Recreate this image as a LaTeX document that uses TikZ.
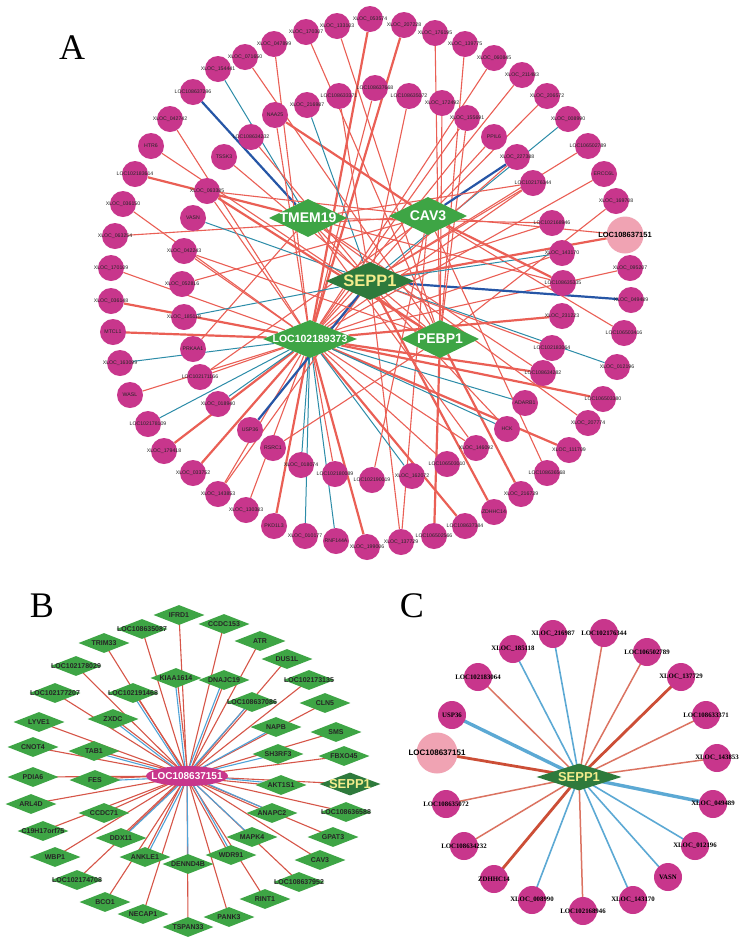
\documentclass[tikz,border=0pt]{standalone}
\usepackage{fontspec}
\setmainfont{Liberation Sans}
\newfontfamily\serifA{Liberation Serif}
\usetikzlibrary{shapes.geometric,calc}
\pgfdeclarelayer{back}
\pgfdeclarelayer{bg}
\pgfsetlayers{back,bg,main}
\definecolor{mag}{HTML}{C8368C}
\definecolor{gA}{HTML}{3EA545}
\definecolor{gD}{HTML}{2E7A3C}
\definecolor{pinkN}{HTML}{F0A3B3}
\definecolor{eR}{HTML}{EA5F55}
\definecolor{eT}{HTML}{2C8CA8}
\definecolor{eB}{HTML}{2656A6}
\definecolor{bR}{HTML}{D65548}
\definecolor{bB}{HTML}{4FA3D8}
\definecolor{cR}{HTML}{DB7361}
\definecolor{cRd}{HTML}{CC4E36}
\definecolor{cB}{HTML}{5CA9D4}
\definecolor{ylw}{HTML}{F3EC8C}
\newcommand\zb[1]{\makebox[0pt]{#1}}
\begin{document}
\begin{tikzpicture}[x=1pt,y=-1pt,
  letter/.style={font=\serifA\fontsize{36}{36}\selectfont,inner sep=0pt},
  acirc/.style={circle,fill=mag,minimum size=26pt,inner sep=0pt,text=black!85,font=\fontsize{5.2}{5.2}\selectfont},
  hub/.style={diamond,fill=gA,inner sep=0pt,minimum width=78pt,minimum height=38pt,text=white,font=\bfseries\fontsize{14}{14}\selectfont},
  er/.style={draw=eR,line width=1.1pt},
  erk/.style={draw=eR,line width=2.2pt},
  et/.style={draw=eT,line width=1pt},
  eb/.style={draw=eB,line width=2.2pt},
  bd/.style={diamond,fill=gA,inner sep=0pt,minimum width=51pt,minimum height=20pt,text=black!85,font=\bfseries\fontsize{7}{7}\selectfont},
  ber/.style={draw=bR,line width=1.1pt},
  beb/.style={draw=bB,line width=1.1pt},
  ccirc/.style={circle,fill=mag,minimum size=28pt,inner sep=0pt,text=black,font=\serifA\bfseries\fontsize{6.8}{6.8}\selectfont},
  cr/.style={draw=cR,line width=1.5pt},
  crk/.style={draw=cRd,line width=2.8pt},
  cb/.style={draw=cB,line width=1.6pt},
  cbk/.style={draw=cB,line width=3.4pt}]
\useasboundingbox (0,0) rectangle (746,946);
\begin{pgfonlayer}{back}
\fill[white] (0,0) rectangle (746,946);
\end{pgfonlayer}
% ---------------- Panel A ----------------
\node[letter] (labA) at (72,48) {A};
\foreach \n/\x/\y/\t in {
 x133103/337/26/XLOC\_133103, x053574/370/19/XLOC\_053574, x207228/404/25/XLOC\_207228,
 x176195/435/33/XLOC\_176195, x139775/465/44/XLOC\_139775, x060845/494/58/XLOC\_060845,
 x211483/522/75/XLOC\_211483, x206572/547/96/XLOC\_206572, x008990/568/119/XLOC\_008990,
 l106502789/588/146/LOC106502789, ercc6l/604/174/ERCC6L, x169708/616/201/XLOC\_169708,
 x095207/630/268/XLOC\_095207, x049489/631/300/XLOC\_049489,
 l106503416/624/333/LOC106503416, x012196/617/367/XLOC\_012196, l106503380/603/399/LOC106503380,
 x207774/588/423/XLOC\_207774, x111709/569/450/XLOC\_111709, l108636568/547/473/LOC108636568,
 x216739/521/494/XLOC\_216739, zdhhc14/494/512/ZDHHC14, l108637384/465/526/LOC108637384,
 l106502566/434/536/LOC106502566, x137729/401/542/XLOC\_137729, x199006/367/547/XLOC\_199006,
 rnf144a/336/541/RNF144A, x010177/305/536/XLOC\_010177, pkd1l3/274/526/PKD1L3,
 x130383/246/510/XLOC\_130383, x143853/218/494/XLOC\_143853, x033752/193/473/XLOC\_033752,
 x179418/164/451/XLOC\_179418, l102178109/148/424/LOC102178109, wasl/130/395/WASL,
 x163099/120/363/XLOC\_163099, mtcl1/113/332/MTCL1, x036148/111/301/XLOC\_036148,
 x170109/111/268/XLOC\_170109, x063254/115/236/XLOC\_063254, x036150/123/204/XLOC\_036150,
 l102183614/135/174/LOC102183614, htr6/151/146/HTR6, x042742/170/119/XLOC\_042742,
 l108637296/193/92/LOC108637296, x154441/218/69/XLOC\_154441, x071650/245/57/XLOC\_071650,
 x047899/274/44/XLOC\_047899, x170307/306/32/XLOC\_170307,
 naa25/275/115/NAA25, x216987/307/105/XLOC\_216987, l108633371/339/96/LOC108633371,
 l108637668/375/88/LOC108637668, l108635072/409/96/LOC108635072, x172492/442/103/XLOC\_172492,
 x155691/467/118/XLOC\_155691, ppil6/494/137/PPIL6, x227388/517/157/XLOC\_227388,
 l102176344/533/183/LOC102176344, l102168946/552/223/LOC102168946, x143170/562/253/XLOC\_143170,
 l108635335/563/283/LOC108635335, x231223/562/316/XLOC\_231223, l102183064/552/348/LOC102183064,
 l108634282/543/373/LOC108634282, adarb1/525/403/ADARB1, hck/507/429/HCK,
 x146092/476/448/XLOC\_146092, l106503010/447/464/LOC106503010, x162072/412/476/XLOC\_162072,
 l102190019/372/480/LOC102190019, l102180089/335/474/LOC102180089, x018074/301/465/XLOC\_018074,
 rsrc1/273/448/RSRC1, usp36/250/430/USP36, x018940/218/404/XLOC\_018940,
 l102171166/200/377/LOC102171166, prkaa1/193/349/PRKAA1, x185118/184/317/XLOC\_185118,
 x052816/182/284/XLOC\_052816, x042243/184/251/XLOC\_042243, vasn/193/218/VASN,
 x063385/207/191/XLOC\_063385, tssk3/224/157/TSSK3, l108634232/251/137/LOC108634232}
 {\node[acirc] (\n) at (\x,\y) {\zb{\t}};}
\node[acirc,fill=pinkN,minimum size=37pt,text=black,font=\bfseries\fontsize{7.5}{7.5}\selectfont] (l108637151) at (625,235) {\zb{LOC108637151}};
\node[hub] (tmem19) at (308,218) {\zb{TMEM19}};
\node[hub] (cav3) at (428,216) {\zb{CAV3}};
\node[hub,fill=gD,text=ylw,minimum width=88pt,font=\bfseries\fontsize{16.5}{16.5}\selectfont] (seppA) at (370,281) {\zb{SEPP1}};
\node[hub,minimum width=94pt,font=\bfseries\fontsize{10.5}{10.5}\selectfont] (l102189373) at (310,339) {\zb{LOC102189373}};
\node[hub] (pebp1) at (440,339) {\zb{PEBP1}};
\begin{pgfonlayer}{bg}
\foreach \a/\b/\s in {
 x133103/pebp1/er, x053574/l102189373/erk, x207228/l102189373/erk, x176195/pebp1/er,
 x139775/pebp1/er, x060845/l102189373/er, x211483/l102189373/er, x206572/cav3/er,
 x008990/seppA/et, l106502789/seppA/er, ercc6l/l102189373/er, x169708/pebp1/er,
 l108637151/cav3/er, l108637151/seppA/erk, x095207/l102189373/er, x049489/seppA/eb,
 l106503416/cav3/er, x012196/seppA/et, l106503380/l102189373/erk, x207774/tmem19/er,
 x111709/l102189373/erk, l108636568/cav3/er, x216739/pebp1/erk, zdhhc14/seppA/erk,
 l108637384/l102189373/erk, l106502566/pebp1/erk, x137729/seppA/er, x137729/cav3/er,
 x199006/l102189373/erk, rnf144a/l102189373/et, x010177/l102189373/et, pkd1l3/l102189373/erk,
 x130383/l102189373/er, x143853/l102189373/er, x143853/seppA/er, x033752/l102189373/erk,
 x179418/l102189373/erk, l102178109/l102189373/et, wasl/l102189373/er, x163099/l102189373/et,
 mtcl1/l102189373/erk, x036148/l102189373/erk, x170109/l102189373/er, x063254/cav3/er,
 x036150/l102189373/er, l102183614/tmem19/erk, htr6/pebp1/er, x042742/l102189373/er,
 l108637296/tmem19/eb, x154441/tmem19/et, x071650/pebp1/er, x047899/l102189373/er,
 x170307/pebp1/er,
 naa25/cav3/erk, naa25/l102189373/er, x216987/seppA/et, l108633371/seppA/er,
 l108637668/l102189373/er, l108635072/seppA/er, x172492/pebp1/er, x155691/pebp1/er,
 x155691/l102189373/er, ppil6/l102189373/er, x227388/cav3/eb, x227388/l102189373/er,
 l102176344/seppA/er, l102176344/tmem19/er, l102176344/l102189373/er,
 l102168946/seppA/er, l102168946/tmem19/er, x143170/seppA/et, x143170/l102189373/er,
 l108635335/cav3/erk, l108635335/tmem19/er, x231223/l102189373/erk, l102183064/seppA/er,
 l108634282/l102189373/erk, l108634282/tmem19/er, adarb1/l102189373/et, hck/l102189373/et,
 hck/tmem19/er, x146092/l102189373/er, x146092/tmem19/er, l106503010/l102189373/er,
 x162072/l102189373/et, l102190019/cav3/er, l102180089/l102189373/er, x018074/l102189373/et,
 rsrc1/pebp1/er, usp36/seppA/eb, x018940/l102189373/et, l102171166/l102189373/er,
 l102171166/cav3/er, prkaa1/tmem19/er, x185118/seppA/et, x052816/cav3/er,
 x042243/pebp1/er, x042243/l102189373/er, vasn/seppA/et, x063385/cav3/er,
 x063385/pebp1/erk, x063385/l102189373/er, tssk3/pebp1/er, l108634232/seppA/er}
 {\draw[\s] (\a) -- (\b);}
\end{pgfonlayer}
% ---------------- Panel B ----------------
\node[letter] (labB) at (42,606) {B};
\node[ellipse,fill=mag,minimum width=82pt,minimum height=20pt,inner sep=0pt,text=white,font=\bfseries\fontsize{10}{10}\selectfont] (bc) at (187,776) {\zb{LOC108637151}};
\foreach \n/\x/\y/\t in {
 bifrd1/179/615/IFRD1, bccdc153/224/624/CCDC153, bl108635087/142/629/LOC108635087,
 batr/260/641/ATR, btrim33/104/643/TRIM33, bdus1l/287/659/DUS1L,
 bl102178029/76/666/LOC102178029, bkiaa1614/176/678/KIAA1614, bdnajc19/224/680/DNAJC19,
 bl102173135/309/680/LOC102173135, bl102177207/55/693/LOC102177207, bl102191468/133/693/LOC102191468,
 bl108637086/252/702/LOC108637086, bcln5/325/703/CLN5, blyve1/39/722/LYVE1,
 bzxdc/113/719/ZXDC, bnapb/276/727/NAPB, bsms/336/732/SMS,
 bcnot4/33/747/CNOT4, btab1/94/751/TAB1, bsh3rf3/278/754/SH3RF3,
 bfbxo45/344/756/FBXO45, bpdia6/33/777/PDIA6, bfes/95/780/FES,
 bakt1s1/281/785/AKT1S1, barl4d/31/804/ARL4D, bccdc71/104/813/CCDC71,
 banapc2/272/813/ANAPC2, bl108636588/346/812/LOC108636588, bc19/43/831/C19H17orf75,
 bddx11/121/838/DDX11, bmapk4/252/837/MAPK4, bgpat3/333/837/GPAT3,
 bwbp1/55/857/WBP1, bankle1/145/857/ANKLE1, bwdr91/231/855/WDR91,
 bdennd4b/188/864/DENND4B, bcav3/320/860/CAV3, bl102174708/77/880/LOC102174708,
 bl108637952/299/882/LOC108637952, bbco1/105/902/BCO1, brint1/265/899/RINT1,
 bnecap1/143/914/NECAP1, bpank3/229/917/PANK3, btspan33/188/927/TSPAN33}
 {\node[bd] (\n) at (\x,\y) {\zb{\t}};}
\node[bd,fill=gD,text=ylw,minimum width=61pt,minimum height=23pt,font=\bfseries\fontsize{13}{13}\selectfont] (bsepp1) at (350,784) {\zb{SEPP1}};
\begin{pgfonlayer}{bg}
\foreach \n in {bifrd1,bccdc153,bl108635087,batr,btrim33,bdus1l,bl102178029,bl102173135,
 bl102177207,bcln5,blyve1,bsms,bcnot4,bfbxo45,bpdia6,bsepp1,barl4d,bccdc71,bl108636588,
 bc19,bgpat3,bwbp1,bcav3,bl102174708,bl108637952,bbco1,brint1,bnecap1,bpank3,btspan33}
 {\draw[ber] (bc.center) -- (\n.center);}
\foreach \n in {bkiaa1614,bdnajc19,bl102191468,bl108637086,bzxdc,btab1,bfes,bakt1s1,
 banapc2,bddx11,bankle1,bwdr91}
 {\draw[ber] ($(bc.center)!1.1pt!-90:(\n.center)$) -- ($(\n.center)!1.1pt!90:(bc.center)$);
  \draw[beb] ($(bc.center)!1.1pt!90:(\n.center)$) -- ($(\n.center)!1.1pt!-90:(bc.center)$);}
\foreach \n in {bnapb,bsh3rf3,bmapk4,bdennd4b}
 {\draw[beb] (bc.center) -- (\n.center);}
\end{pgfonlayer}
% ---------------- Panel C ----------------
\node[letter] (labC) at (412,606) {C};
\foreach \n/\x/\y/\t in {
 cx216987/553/634/XLOC\_216987, cl102176344/604/633/LOC102176344, cx185118/513/649/XLOC\_185118,
 cl106502789/647/652/LOC106502789, cl102183064/478/677/LOC102183064, cx137729/681/677/XLOC\_137729,
 cusp36/452/715/USP36, cl108633371/706/715/LOC108633371, cx143853/717/758/XLOC\_143853,
 cl108635072/446/804/LOC108635072, cx049489/713/804/XLOC\_049489, cl108634232/464/846/LOC108634232,
 cx012196/695/846/XLOC\_012196, czdhhc14/494/879/ZDHHC14, cvasn/668/877/VASN,
 cx008990/532/900/XLOC\_008990, cx143170/633/900/XLOC\_143170, cl102168946/583/911/LOC102168946}
 {\node[ccirc] (\n) at (\x,\y) {\zb{\t}};}
\node[ccirc,fill=pinkN,minimum size=41pt,font=\bfseries\fontsize{8}{8}\selectfont] (cl108637151) at (437,753) {\zb{LOC108637151}};
\node[diamond,fill=gD,inner sep=0pt,minimum width=85pt,minimum height=27pt,text=ylw,font=\bfseries\fontsize{13}{13}\selectfont] (cs) at (579,777) {\zb{SEPP1}};
\begin{pgfonlayer}{bg}
\foreach \n/\s in {cx216987/cb, cl102176344/cr, cx185118/cb, cl106502789/cr, cl102183064/cr,
 cx137729/crk, cusp36/cbk, cl108633371/cr, cl108637151/crk, cx143853/cr, cl108635072/cr,
 cx049489/cbk, cl108634232/cr, cx012196/cb, czdhhc14/crk, cvasn/cb, cx008990/cb,
 cx143170/cb, cl102168946/cr}
 {\draw[\s] (cs.center) -- (\n.center);}
\end{pgfonlayer}
\end{tikzpicture}
\end{document}
